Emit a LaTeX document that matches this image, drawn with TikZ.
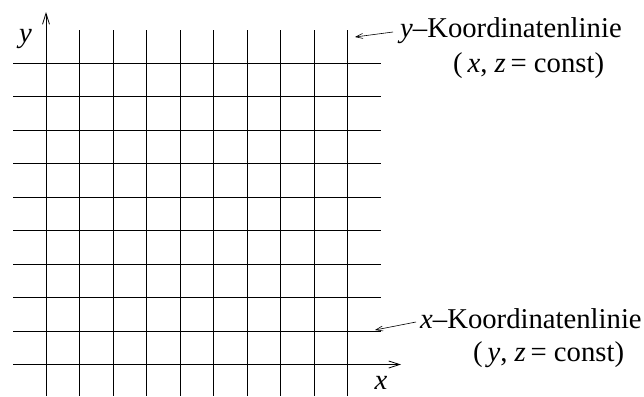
\documentclass[tikz,border=0pt]{standalone}
\usepackage{fontspec}
\setmainfont{Liberation Serif}
\usetikzlibrary{arrows.meta}
\begin{document}
\begin{tikzpicture}[x=1bp,y=-1bp,
  grid/.style={line width=0.8bp},
  ax/.style={line width=0.8bp,-{Straight Barb[length=11bp,width=7bp]}},
  lbl/.style={font=\fontsize{28.8}{32}\selectfont, inner sep=0pt},
  ptr/.style={line width=0.6bp,-{Straight Barb[length=7bp,width=5bp]}}]
\useasboundingbox (0,0) rectangle (644,396);
\foreach \i in {1,...,9} \draw[grid] (46+33.5*\i,30) -- (46+33.5*\i,396);
\foreach \j in {0,...,8} \draw[grid] (13,63+33.5*\j) -- (381,63+33.5*\j);
\coordinate (yb) at (46,396);
\coordinate (yt) at (46,12);
\draw[ax] (yb) -- (yt);
\coordinate (xl) at (13,364.5);
\coordinate (xr) at (401,364.5);
\draw[ax] (xl) -- (xr);
\node[lbl] (ylab) at (25.5,39) {\textit{y}};
\node[lbl] (xlab) at (381,383) {\textit{x}};
\node[lbl,anchor=base west] (t1) at (400,37) {\textit{y}–Koordinatenlinie};
\node[lbl,anchor=base west] (t1b) at (453,72) {(\,\textit{x}, \textit{z}\,= const)};
\node[lbl,anchor=base west] (t2) at (420,328) {\textit{x}–Koordinatenlinie};
\node[lbl,anchor=base west] (t2b) at (473,361) {(\,\textit{y}, \textit{z}\,= const)};
\coordinate (p1s) at (393,32);
\coordinate (p1e) at (355,37);
\draw[ptr] (p1s) -- (p1e);
\coordinate (p2s) at (416,322);
\coordinate (p2e) at (375,330);
\draw[ptr] (p2s) -- (p2e);
\end{tikzpicture}
\end{document}
